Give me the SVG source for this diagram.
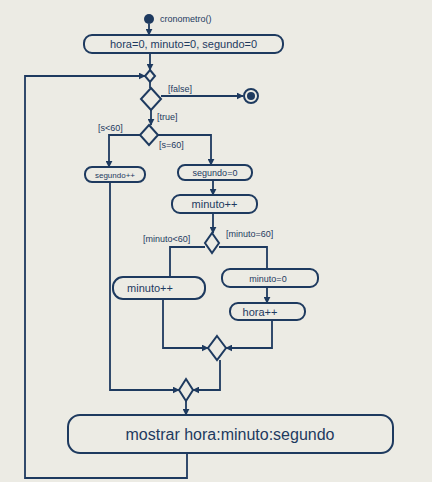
<svg xmlns="http://www.w3.org/2000/svg" width="432" height="482" viewBox="0 0 432 482">
<defs>
<marker id="arr" viewBox="0 0 10 10" refX="9" refY="5" markerWidth="7" markerHeight="7" orient="auto-start-reverse" markerUnits="userSpaceOnUse">
<path d="M0,0 L10,5 L0,10 z" fill="#1e3a5f"/>
</marker>
<style>
.n{fill:none;stroke:#1e3a5f;stroke-width:2}
.c{fill:none;stroke:#1e3a5f;stroke-width:1.8}
.t{font-family:"Liberation Sans",Arial,sans-serif;fill:#1e3a5f}
.g{font-family:"Liberation Sans",Arial,sans-serif;fill:#1e3a5f;font-size:9px}
</style>
</defs>
<rect width="432" height="482" fill="#ecebe4"/>
<g id="start">
<circle cx="149" cy="19" r="5" fill="#1e3a5f"/>
<text class="g" x="160" y="22">cronometro()</text>
</g>
<g id="init">
<rect class="n" x="84" y="35" width="199" height="18" rx="8"/>
<text class="t" x="183.5" y="48" font-size="11" text-anchor="middle">hora=0, minuto=0, segundo=0</text>
</g>
<g id="merge1">
<polygon class="n" points="150,70 155,76 150,82 145,76"/>
</g>
<g id="decision1">
<polygon class="n" points="151,88 161,99 151,110 141,99"/>
</g>
<g id="end">
<circle class="n" cx="251" cy="96" r="7"/>
<circle cx="251" cy="96" r="4" fill="#1e3a5f"/>
</g>
<g id="decision2">
<polygon class="n" points="149,125 158,135 149,145 140,135"/>
</g>
<g id="segInc">
<rect class="n" x="85" y="167" width="60" height="15" rx="7"/>
<text class="t" x="115" y="178" font-size="8" text-anchor="middle">segundo++</text>
</g>
<g id="segZero">
<rect class="n" x="178" y="165" width="74" height="15" rx="7"/>
<text class="t" x="215" y="176" font-size="9" text-anchor="middle">segundo=0</text>
</g>
<g id="minInc1">
<rect class="n" x="172" y="195" width="85" height="18" rx="8"/>
<text class="t" x="214.5" y="208" font-size="11" text-anchor="middle">minuto++</text>
</g>
<g id="decision3">
<polygon class="n" points="212,233 219,243 212,253 205,243"/>
</g>
<g id="minInc2">
<rect class="n" x="113" y="277" width="92" height="22" rx="10"/>
<text class="t" x="150" y="292" font-size="11" text-anchor="middle">minuto++</text>
</g>
<g id="minZero">
<rect class="n" x="222" y="269" width="96" height="18" rx="8"/>
<text class="t" x="268" y="282" font-size="9" text-anchor="middle">minuto=0</text>
</g>
<g id="horaInc">
<rect class="n" x="230" y="303" width="75" height="17" rx="8"/>
<text class="t" x="260" y="316" font-size="11" text-anchor="middle">hora++</text>
</g>
<g id="merge2">
<polygon class="n" points="217,336 226,348 217,360 208,348"/>
</g>
<g id="merge3">
<polygon class="n" points="186,379 193,390 186,401 179,390"/>
</g>
<g id="show">
<rect class="n" x="68" y="415" width="325" height="38" rx="12"/>
<text class="t" x="230" y="440" font-size="16" text-anchor="middle">mostrar hora:minuto:segundo</text>
</g>
<g id="connectors">
<path class="c" d="M149,24 L149,35" marker-end="url(#arr)"/>
<path class="c" d="M150,53 L150,70" marker-end="url(#arr)"/>
<path class="c" d="M150,82 L150,88"/>
<path class="c" d="M161,96 L243,96" marker-end="url(#arr)"/>
<text class="g" x="168" y="92">[false]</text>
<path class="c" d="M151,110 L151,125" marker-end="url(#arr)"/>
<text class="g" x="157" y="120">[true]</text>
<path class="c" d="M140,135 L109,135 L109,167" marker-end="url(#arr)"/>
<text class="g" x="98" y="131">[s&lt;60]</text>
<path class="c" d="M158,135 L211,135 L211,165" marker-end="url(#arr)"/>
<text class="g" x="159" y="148">[s=60]</text>
<path class="c" d="M213,180 L213,195" marker-end="url(#arr)"/>
<path class="c" d="M213,213 L213,233" marker-end="url(#arr)"/>
<text class="g" x="143" y="242">[minuto&lt;60]</text>
<text class="g" x="226" y="237">[minuto=60]</text>
<path class="c" d="M205,247 L170,247 L170,277"/>
<path class="c" d="M219,247 L267,247 L267,269"/>
<path class="c" d="M267,287 L267,303" marker-end="url(#arr)"/>
<path class="c" d="M163,299 L163,348 L208,348" marker-end="url(#arr)"/>
<path class="c" d="M272,320 L272,348 L226,348" marker-end="url(#arr)"/>
<path class="c" d="M220,360 L220,390 L193,390" marker-end="url(#arr)"/>
<path class="c" d="M110,182 L110,390 L179,390" marker-end="url(#arr)"/>
<path class="c" d="M186,401 L186,415" marker-end="url(#arr)"/>
<path class="c" d="M187,453 L187,478 L25,478 L25,76 L145,76" marker-end="url(#arr)"/>
</g>
</svg>
